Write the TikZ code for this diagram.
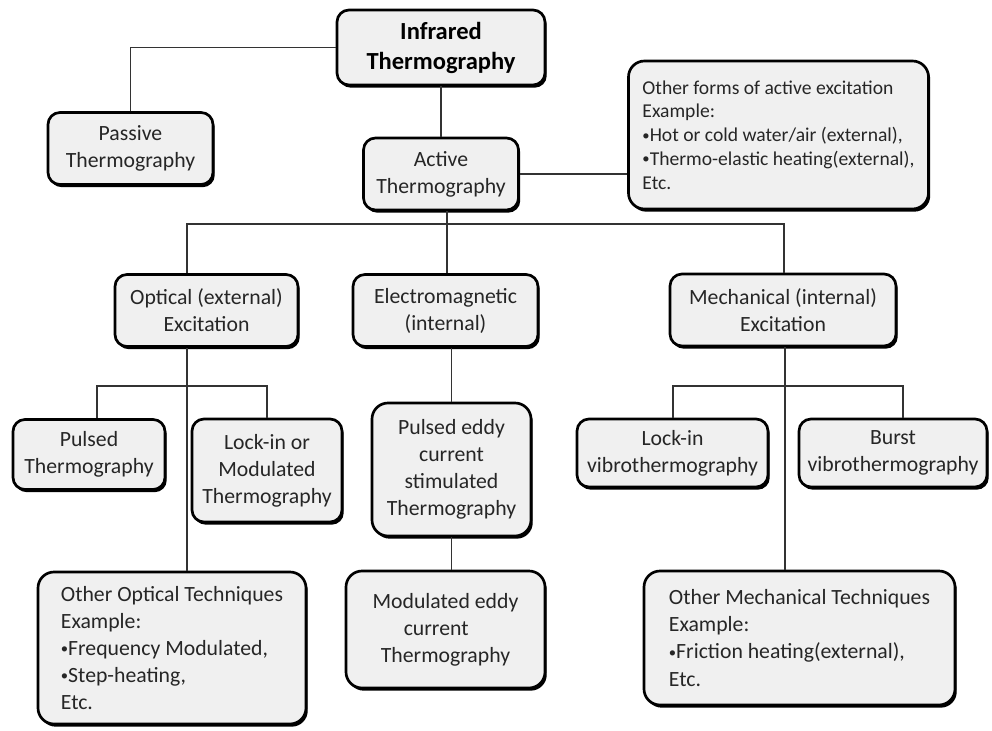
\documentclass[tikz,border=0pt]{standalone}
\usepackage{fontspec}
\setmainfont{Carlito}
\usetikzlibrary{shadows}
\newcommand{\bul}{\raisebox{1.2pt}{\fontsize{11}{11}\selectfont •}}
\begin{document}
\begin{tikzpicture}[x=0.75pt,y=-0.75pt,
  box/.style={draw=black, line width=2pt, rounded corners=9pt, fill=black!6,
    text=black!85, align=center, inner sep=2pt,
    drop shadow={shadow xshift=1.3pt, shadow yshift=-2pt, opacity=1, fill=black},
    font=\fontsize{16.3}{20.3}\selectfont},
  lbox/.style={box, align=left, rounded corners=12pt},
  sz/.style 2 args={minimum width=#1*0.75pt, minimum height=#2*0.75pt},
  link/.style={draw=black!80, line width=0.9pt}]
\useasboundingbox (0,0) rectangle (992,731);

\node[box, sz={208}{75}, text=black, font=\bfseries\fontsize{18.4}{22.5}\selectfont] (ir) at (441,47.5) {Infrared\\Thermography};
\node[box, sz={165}{72}] (passive) at (130.5,148.5) {Passive\\Thermography};
\node[box, sz={155}{72}] (active) at (441,174) {Active\\Thermography};
\node[lbox, sz={300}{148}, font=\fontsize{14.7}{17.8}\selectfont] (other) at (778.5,135)
  {Other forms of active excitation\\Example:\\\bul Hot or cold water/air (external),\\\bul Thermo-elastic heating(external),\\Etc.};

\node[box, sz={183}{72}] (optical) at (206.5,310.5) {Optical (external)\\Excitation};
\node[box, sz={185}{72}] (em) at (445.5,310.5) {Electromagnetic\\(internal)};
\node[box, sz={226}{72}] (mech) at (783,310) {Mechanical (internal)\\Excitation};

\node[box, sz={152}{70}] (pulsed) at (89,454.5) {Pulsed\\Thermography};
\node[box, sz={150}{103}] (lockin) at (267,470.5) {Lock-in or\\Modulated\\Thermography};
\node[box, sz={159}{133}, rounded corners=12pt] (pe) at (451.5,469.5) {Pulsed eddy\\current\\stimulated\\Thermography};
\node[box, sz={191}{68}] (liv) at (672.5,453) {Lock-in\\vibrothermography};
\node[box, sz={188}{68}] (burst) at (893,453) {Burst\\vibrothermography};

\node[lbox, sz={268}{152}] (oo) at (172,648)
  {Other Optical Techniques\\Example:\\\bul Frequency Modulated,\\\bul Step-heating,\\Etc.};
\node[box, sz={199}{117}, rounded corners=12pt] (me) at (445.5,629.5) {Modulated eddy\\current\rule{14pt}{0pt}\\Thermography};
\node[lbox, sz={311}{134}] (om) at (799.5,638)
  {Other Mechanical Techniques\\Example:\\\bul Friction heating(external),\\Etc.};

\coordinate (xo) at (187,224);
\coordinate (xa) at (447,224);
\coordinate (xm) at (784,224);
\coordinate (pl) at (97,386);
\coordinate (lk) at (267,386);
\coordinate (vl) at (673,386);
\coordinate (vb) at (903,386);
\coordinate (xm2) at (785,386);

\draw[link] (ir.west) -| (passive.north);
\draw[link] (ir.south) -- (ir.south |- active.north);
\draw[link] (active.east) -- (active.east -| other.west);
\draw[link] (active.south -| xa) -- (em.north -| xa);
\draw[link] (optical.north -| xo) -- (xo) -- (xm) -- (mech.north -| xm);
\draw[link] (optical.south -| xo) -- (oo.north -| xo);
\draw[link] (pulsed.north -| pl) -- (pl) -- (lk) -- (lockin.north -| lk);
\draw[link] (em.south -| pe.north) -- (pe.north);
\draw[link] (pe.south) -- (pe.south |- me.north);
\draw[link] (mech.south -| xm2) -- (om.north -| xm2);
\draw[link] (liv.north -| vl) -- (vl) -- (vb) -- (burst.north -| vb);
\end{tikzpicture}
\end{document}
